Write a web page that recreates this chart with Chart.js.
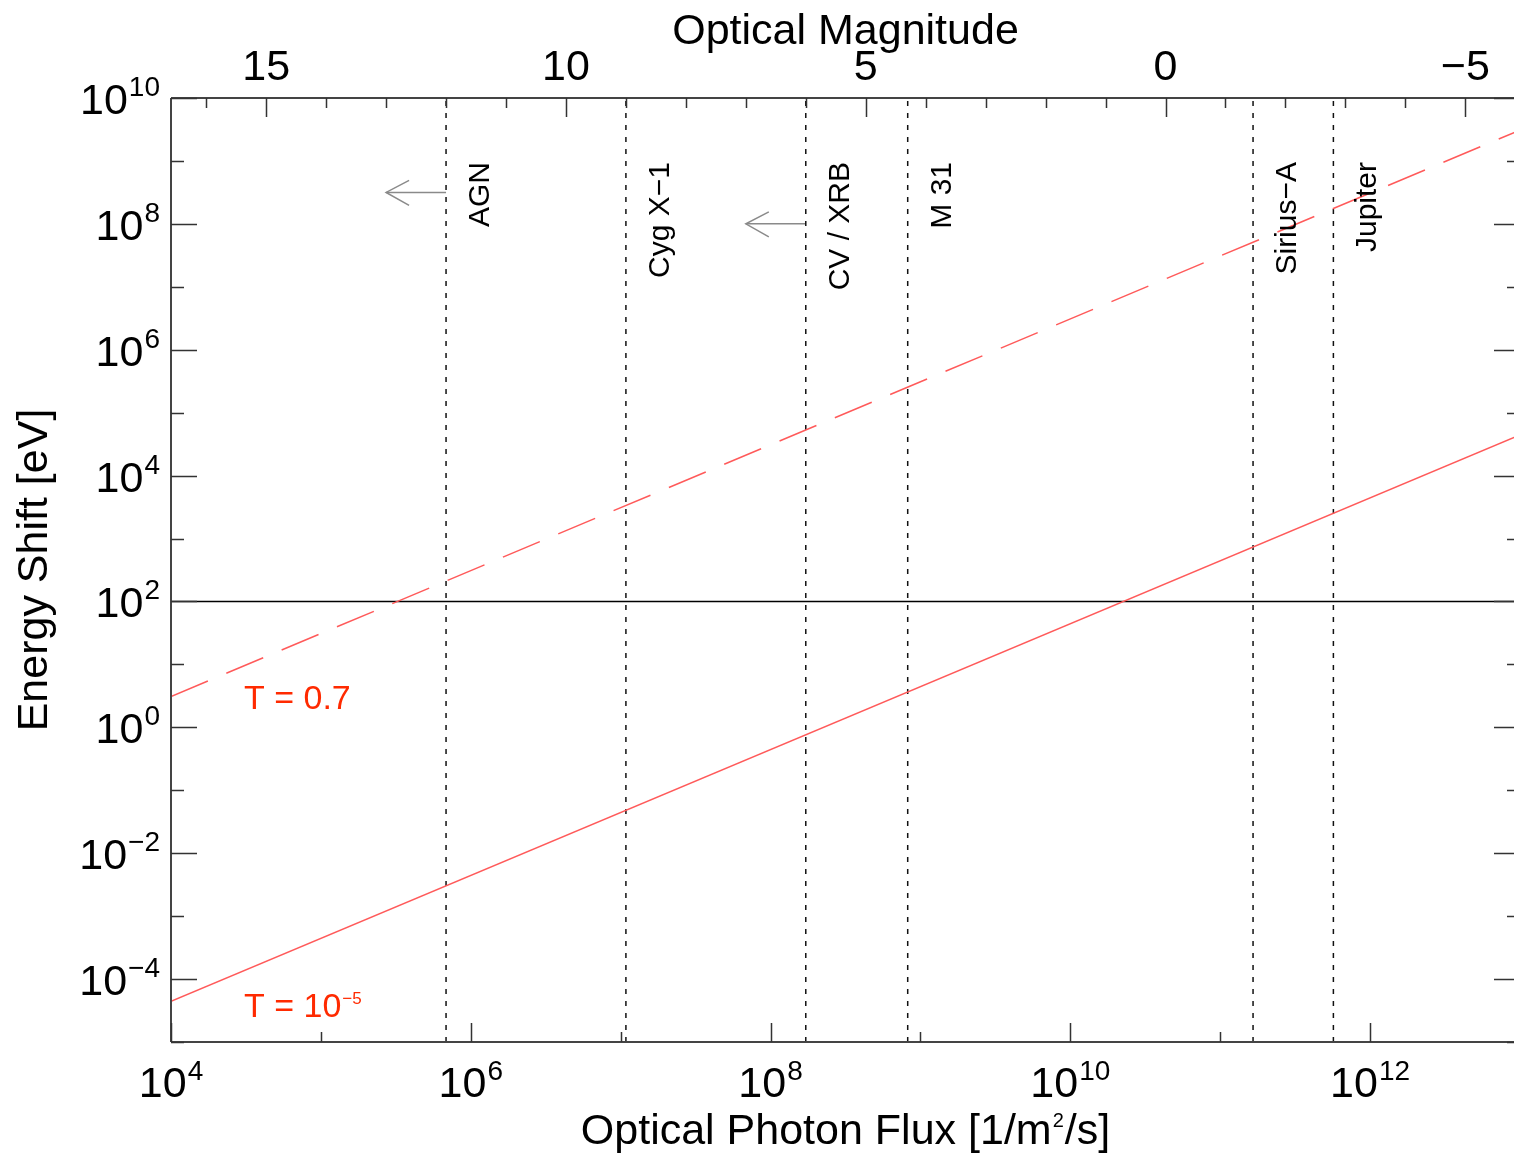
<!DOCTYPE html>
<html>
<head>
<meta charset="utf-8">
<script src="https://cdn.jsdelivr.net/npm/chart.js@4/dist/chart.umd.min.js"></script>
<style>
  html, body { margin: 0; padding: 0; background: #ffffff; overflow: hidden; }
  #wrap { width: 1522px; height: 1155px; }
</style>
</head>
<body>
<div id="wrap"><canvas id="c" width="1522" height="1155"></canvas></div>
<script>
// ---------------- data ----------------
const fluxRange = [1e4, 1e13];                 // optical photon flux [1/m^2/s]
const energyRange = [1e-5, 1e10];              // energy shift [eV]
const energyT07 = [3.09, 3.09e9];              // T = 0.7 (dashed)
const energyT1e5 = [4.42e-5, 4.42e4];          // T = 1e-5 (solid)
const thresholdEnergy = 100;                   // horizontal reference line
const sourceNames = ['AGN', 'Cyg X\u22121', 'CV / XRB', 'M 31', 'Sirius\u2212A', 'Jupiter'];
const sourceMags = [12.0, 9.0, 6.0, 4.3, -1.46, -2.8];
const arrowSources = ['AGN', 'CV / XRB'];
const arrowEnergies = [3.16e8, 1e8];
const arrowMagSpan = 1;                        // arrows point one magnitude fainter
const magZeroLogFlux = 10.635;                 // log10 flux at magnitude 0
const xTickExps = [4, 5, 6, 7, 8, 9, 10, 11, 12, 13];
const xLabelExps = [4, 6, 8, 10, 12];
const yTickExps = [-5, -4, -3, -2, -1, 0, 1, 2, 3, 4, 5, 6, 7, 8, 9, 10];
const yLabelExps = [-4, -2, 0, 2, 4, 6, 8, 10];
const magTicks = [16, 15, 14, 13, 12, 11, 10, 9, 8, 7, 6, 5, 4, 3, 2, 1, 0, -1, -2, -3, -4, -5];
const magLabels = [15, 10, 5, 0, -5];
const seriesLabels = ['T = 0.7', 'T = 10'];

// ---------------- helpers ----------------
const magToFlux = m => Math.pow(10, magZeroLogFlux - 0.4 * m);
const magMin = (magZeroLogFlux - Math.log10(fluxRange[1])) / 0.4;
const magMax = (magZeroLogFlux - Math.log10(fluxRange[0])) / 0.4;
const FONT = "'Liberation Sans', Arial, Helvetica, sans-serif";
const minus = s => String(s).replace('-', '\u2212');

const datasets = [
  { label: seriesLabels[0], data: fluxRange.map((f, i) => ({x: f, y: energyT07[i]})),
    borderColor: '#ff5a5a', borderWidth: 1.5, borderDash: [40, 20], pointRadius: 0, fill: false },
  { label: seriesLabels[1], data: fluxRange.map((f, i) => ({x: f, y: energyT1e5[i]})),
    borderColor: '#ff5a5a', borderWidth: 1.5, pointRadius: 0, fill: false },
  { label: 'threshold', data: fluxRange.map(f => ({x: f, y: thresholdEnergy})),
    borderColor: '#000000', borderWidth: 1.5, pointRadius: 0, fill: false }
];
sourceNames.forEach((n, i) => {
  const f = magToFlux(sourceMags[i]);
  datasets.push({ label: n, data: [{x: f, y: energyRange[0]}, {x: f, y: energyRange[1]}],
    borderColor: '#111111', borderWidth: 1.5, borderDash: [5, 7], pointRadius: 0, fill: false });
});
arrowSources.forEach((n, i) => {
  const m = sourceMags[sourceNames.indexOf(n)];
  datasets.push({ label: 'arrow ' + n,
    data: [{x: magToFlux(m), y: arrowEnergies[i]}, {x: magToFlux(m + arrowMagSpan), y: arrowEnergies[i]}],
    borderColor: '#8a8a8a', borderWidth: 1.5, pointRadius: 0, fill: false });
});

function drawPow(ctx, exp, x, y, align, mainPx, supPx, rise) {
  const base = '10';
  const sup = minus(exp);
  ctx.font = mainPx + 'px ' + FONT;
  const wb = ctx.measureText(base).width;
  ctx.font = supPx + 'px ' + FONT;
  const ws = ctx.measureText(sup).width;
  const total = wb + ws + 1;
  const x0 = align === 'right' ? x - total : align === 'center' ? x - total / 2 : x;
  ctx.textAlign = 'left';
  ctx.textBaseline = 'alphabetic';
  ctx.font = mainPx + 'px ' + FONT;
  ctx.fillText(base, x0, y);
  ctx.font = supPx + 'px ' + FONT;
  ctx.fillText(sup, x0 + wb + 1, y - rise);
}

const decor = {
  id: 'decor',
  afterDraw(chart) {
    const ctx = chart.ctx;
    const a = chart.chartArea;
    const xs = chart.scales.x, ys = chart.scales.y, ms = chart.scales.x2;
    ctx.save();
    // frame
    ctx.strokeStyle = '#444444';
    ctx.lineWidth = 2;
    ctx.beginPath();
    ctx.moveTo(a.left, a.top); ctx.lineTo(a.right, a.top);
    ctx.moveTo(a.left, a.top); ctx.lineTo(a.left, a.bottom);
    ctx.moveTo(a.left, a.bottom); ctx.lineTo(a.right, a.bottom);
    ctx.moveTo(a.right, a.top); ctx.lineTo(a.right, a.bottom);
    ctx.stroke();
    // ticks
    ctx.strokeStyle = '#333333';
    ctx.lineWidth = 1.5;
    ctx.beginPath();
    yTickExps.forEach(e => {
      const py = Math.round(ys.getPixelForValue(Math.pow(10, e))) + 0.5;
      const len = (e % 2 === 0) ? 26 : 13;
      ctx.moveTo(a.left, py); ctx.lineTo(a.left + len, py);
      ctx.moveTo(a.right, py); ctx.lineTo(a.right - len, py);
    });
    xTickExps.forEach(e => {
      const px = Math.round(xs.getPixelForValue(Math.pow(10, e))) + 0.5;
      const len = (e % 2 === 0) ? 19 : 10;
      ctx.moveTo(px, a.bottom); ctx.lineTo(px, a.bottom - len);
    });
    magTicks.forEach(m => {
      const px = Math.round(ms.getPixelForValue(m)) + 0.5;
      const len = (m % 5 === 0) ? 19 : 10;
      ctx.moveTo(px, a.top); ctx.lineTo(px, a.top + len);
    });
    ctx.stroke();

    // tick labels
    ctx.fillStyle = '#000000';
    yLabelExps.forEach(e => {
      const py = ys.getPixelForValue(Math.pow(10, e));
      drawPow(ctx, e, 160, py + 16, 'right', 43, 28, 18);
    });
    xLabelExps.forEach(e => {
      const px = xs.getPixelForValue(Math.pow(10, e));
      drawPow(ctx, e, px, 1097, 'center', 43, 28, 17);
    });
    ctx.font = '43px ' + FONT;
    ctx.textAlign = 'center';
    ctx.textBaseline = 'alphabetic';
    magLabels.forEach(m => {
      ctx.fillText(minus(m), ms.getPixelForValue(m), 80);
    });

    // axis titles
    const midX = (a.left + a.right) / 2;
    ctx.font = '43px ' + FONT;
    ctx.textAlign = 'center';
    ctx.fillText('Optical Magnitude', midX, 44);
    // bottom title with superscript
    const t1 = 'Optical Photon Flux [1/m', t2 = '2', t3 = '/s]';
    ctx.font = '43px ' + FONT;
    const w1 = ctx.measureText(t1).width, w3 = ctx.measureText(t3).width;
    ctx.font = '20px ' + FONT;
    const w2 = ctx.measureText(t2).width;
    const tot = w1 + w2 + w3 + 2;
    let bx = midX - tot / 2;
    ctx.textAlign = 'left';
    ctx.font = '43px ' + FONT;
    ctx.fillText(t1, bx, 1144);
    ctx.font = '20px ' + FONT;
    ctx.fillText(t2, bx + w1 + 1, 1127);
    ctx.font = '43px ' + FONT;
    ctx.fillText(t3, bx + w1 + w2 + 2, 1144);
    // left title
    ctx.save();
    ctx.translate(47, (a.top + a.bottom) / 2);
    ctx.rotate(-Math.PI / 2);
    ctx.textAlign = 'center';
    ctx.font = '43px ' + FONT;
    ctx.fillText('Energy Shift [eV]', 0, 0);
    ctx.restore();

    // source labels
    ctx.font = '30px ' + FONT;
    sourceNames.forEach((n, i) => {
      const px = xs.getPixelForValue(magToFlux(sourceMags[i]));
      ctx.save();
      ctx.translate(px + 43, 162);
      ctx.rotate(-Math.PI / 2);
      ctx.textAlign = 'right';
      ctx.fillText(n, 0, 0);
      ctx.restore();
    });

    // arrowheads
    ctx.strokeStyle = '#8a8a8a';
    ctx.lineWidth = 1.5;
    arrowSources.forEach((n, i) => {
      const m = sourceMags[sourceNames.indexOf(n)];
      const tx = xs.getPixelForValue(magToFlux(m + arrowMagSpan));
      const ty = ys.getPixelForValue(arrowEnergies[i]);
      ctx.beginPath();
      ctx.moveTo(tx + 23, ty - 12); ctx.lineTo(tx, ty); ctx.lineTo(tx + 23, ty + 13);
      ctx.stroke();
    });

    // series labels
    ctx.fillStyle = '#ff2a00';
    ctx.textAlign = 'left';
    ctx.font = '34px ' + FONT;
    ctx.fillText(seriesLabels[0], 244, 709);
    ctx.fillText(seriesLabels[1], 244, 1017);
    const wT = ctx.measureText(seriesLabels[1]).width;
    ctx.font = '17px ' + FONT;
    ctx.fillText(minus(-5), 244 + wT + 1, 1004);
    ctx.restore();
  }
};

new Chart(document.getElementById('c'), {
  type: 'line',
  data: { datasets },
  options: {
    responsive: false,
    animation: false,
    events: [],
    layout: { padding: { left: 171, right: 2, top: 98, bottom: 113 } },
    plugins: { legend: { display: false }, tooltip: { enabled: false } },
    scales: {
      x: { type: 'logarithmic', axis: 'x', position: 'bottom', min: fluxRange[0], max: fluxRange[1], display: false },
      y: { type: 'logarithmic', axis: 'y', position: 'left', min: energyRange[0], max: energyRange[1], display: false },
      x2: { type: 'linear', axis: 'x', position: 'top', min: magMin, max: magMax, reverse: true, display: false }
    }
  },
  plugins: [decor]
});
</script>
</body>
</html>
